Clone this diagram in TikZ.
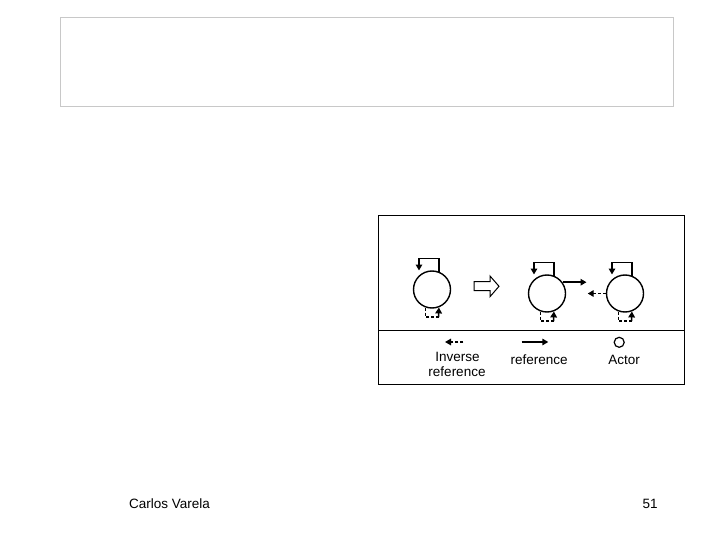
\documentclass[tikz,border=0pt]{standalone}
\usepackage{fontspec}
\setmainfont{Liberation Sans}
\usetikzlibrary{arrows.meta,calc}
\definecolor{boxgray}{RGB}{200,200,200}
\tikzset{
  actor/.style={circle,draw=black,line width=1.4pt,minimum size=37pt,inner sep=0pt},
  refline/.style={line width=1.5pt,-{Triangle[length=6pt,width=6.5pt]}},
  invline/.style={line width=1.4pt,dash pattern=on 3pt off 2pt},
  invarrow/.style={invline,-{Triangle[length=6pt,width=6.5pt]}},
  lbl/.style={font=\fontsize{13.5}{15}\selectfont,anchor=base,inner sep=0pt},
}
\begin{document}
\begin{tikzpicture}[x=1pt,y=-1pt]
\useasboundingbox[fill=white] (0,0) rectangle (720,540);
% title frame
\draw[boxgray,line width=1pt] (60,18) rectangle (673,107);
% figure frame
\draw[line width=1pt] (378,216) rectangle (684,384);
\draw[line width=1pt] (378,330) -- (684,330);
% actors
\node[actor] (c1) at (432,289.5) {};
\node[actor] (c2) at (547,293.5) {};
\node[actor] (c3) at (625,293.5) {};
% self loops
\foreach \c in {c1,c2,c3}{
  \draw[refline] (\c.69) |- ($(\c)+(-13,-31)$) -- ($(\c)+(-13,-19)$);
  \coordinate (\c b) at ($(\c)+(6.5,27.5)$);
  \draw[invline] (\c.-109) |- (\c b);
  \draw[refline] (\c b) -- (\c.-69);
}
% transition block arrow
\draw[line width=1pt] (474,281.7) -- (490,281.7) -- (490,276) -- (499,286.3) -- (490,296.7) -- (490,290.7) -- (474,290.7) -- cycle;
% reference and inverse reference
\coordinate (r2) at (586.5,282.5);
\draw[refline] (c2.36) -- (c2.36 -| r2);
\coordinate (i3) at (587.7,293.5);
\draw[invarrow] (c3.west) -- (i3);
% legend
\coordinate (li) at (463.3,342);
\coordinate (lit) at (445,342);
\draw[invarrow] (li) -- (lit);
\coordinate (lr) at (521.7,342);
\coordinate (lrt) at (548.3,342);
\draw[refline] (lr) -- (lrt);
\node[circle,draw=black,line width=1.2pt,minimum size=10pt,inner sep=0pt] (la) at (619.2,342.3) {};
\node[lbl] (t1) at (457.5,361.3) {Inverse};
\node[lbl] (t2) at (457,376.3) {reference};
\node[lbl] (t3) at (539.2,364) {reference};
\node[lbl] (t4) at (624.2,364) {Actor};
% footer
\node[lbl] (f1) at (169.5,508.3) {Carlos Varela};
\node[lbl] (f2) at (650,508.3) {51};
\end{tikzpicture}
\end{document}
